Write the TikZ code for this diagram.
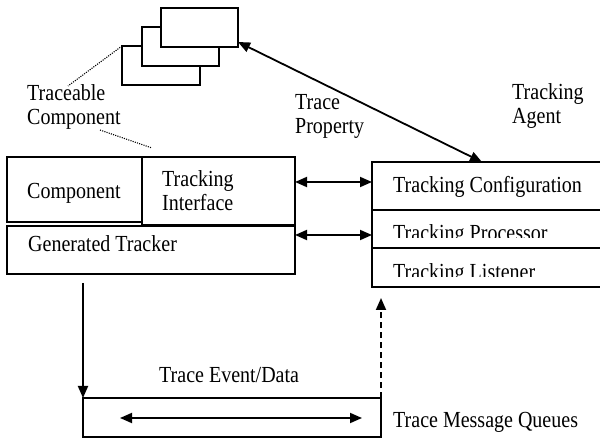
\documentclass[tikz,border=0pt]{standalone}
\usepackage{fontspec}
\setmainfont[FakeStretch=0.87]{Liberation Serif}
\usetikzlibrary{arrows.meta}

\begin{document}
\begin{tikzpicture}[x=1pt,y=-1pt,
  box/.style={draw, line width=1.8pt, fill=white, inner sep=0pt, outer sep=0pt, anchor=north west},
  lbl/.style={font=\fontsize{23}{24}\selectfont, inner sep=0pt, anchor=base west},
  link/.style={line width=1.8pt, {Triangle[length=12pt,width=10pt]}-{Triangle[length=12pt,width=10pt]}},
  flow/.style={line width=1.8pt, -{Triangle[length=12pt,width=10pt]}},
  hint/.style={line width=1.1pt, dash pattern=on 1.1pt off 1.2pt}]
\clip (0,0) rectangle (600,438);

% stack of traceable components
\node[box, minimum width=78, minimum height=39] (back) at (122,46) {};
\node[box, minimum width=77, minimum height=39] (mid) at (142,27) {};
\node[box, minimum width=77, minimum height=39] (front) at (161,8) {};

% component with its generated tracker
\node[box, minimum width=135, minimum height=65] (comp) at (7,157) {};
\node[box, minimum width=153, minimum height=68] (ti) at (142,157) {};
\node[box, minimum width=288, minimum height=48] (gen) at (7,226) {};

% tracking agent
\node[box, minimum width=240, minimum height=48] (cfg) at (372,162) {};
\node[box, minimum width=240, minimum height=38] (proc) at (372,210) {};
\node[box, minimum width=240, minimum height=39] (lst) at (372,248) {};

% trace message queues
\node[box, minimum width=298, minimum height=39] (queue) at (83,398) {};

% labels
\node[lbl] (tcA) at (27,101) {Traceable};
\node[lbl] (tcB) at (27,125) {Component};
\node[lbl] (tpA) at (295,110) {Trace};
\node[lbl] (tpB) at (295,134) {Property};
\node[lbl] (taA) at (512,100) {Tracking};
\node[lbl] (taB) at (512,124) {Agent};
\node[lbl] (compT) at (27,199) {Component};
\node[lbl] (tiA) at (162,187) {Tracking};
\node[lbl] (tiB) at (162,211) {Interface};
\node[lbl] (genT) at (28,252) {Generated Tracker};
\node[lbl] (cfgT) at (393,193) {Tracking Configuration};
\begin{scope}
  \clip (372,210) rectangle (600,238);
  \node[lbl] (procT) at (393,241) {Tracking Processor};
\end{scope}
\begin{scope}
  \clip (372,248) rectangle (600,277);
  \node[lbl] (lstT) at (393,280) {Tracking Listener};
\end{scope}
\node[lbl] (evT) at (159,382) {Trace Event/Data};
\node[lbl] (qT) at (393,428) {Trace Message Queues};

% dotted callouts
\coordinate (tcTop) at (68,86);
\coordinate (tcBot) at (100,130);
\coordinate (tcEnd) at (152,148);
\draw[hint] (back.north west) -- (tcTop);
\draw[hint] (tcBot) -- (tcEnd);

% connectors
\draw[link] ([yshift=5pt]front.south east) -- ([xshift=110pt]cfg.north west);
\draw[link] ([yshift=-25pt]ti.north east) -- ([yshift=-20pt]cfg.north west);
\draw[link] ([yshift=-9pt]gen.north east) -- ([yshift=-25pt]proc.north west);
\draw[flow] ([xshift=76pt,yshift=-9pt]gen.south west) -- (queue.north west);
\draw[flow, dash pattern=on 6pt off 4pt] (queue.north east) -- ([xshift=9pt,yshift=-11pt]lst.south west);
\draw[link] ([xshift=37pt,yshift=-20pt]queue.north west) -- ([xshift=-19pt,yshift=-20pt]queue.north east);
\end{tikzpicture}
\end{document}
